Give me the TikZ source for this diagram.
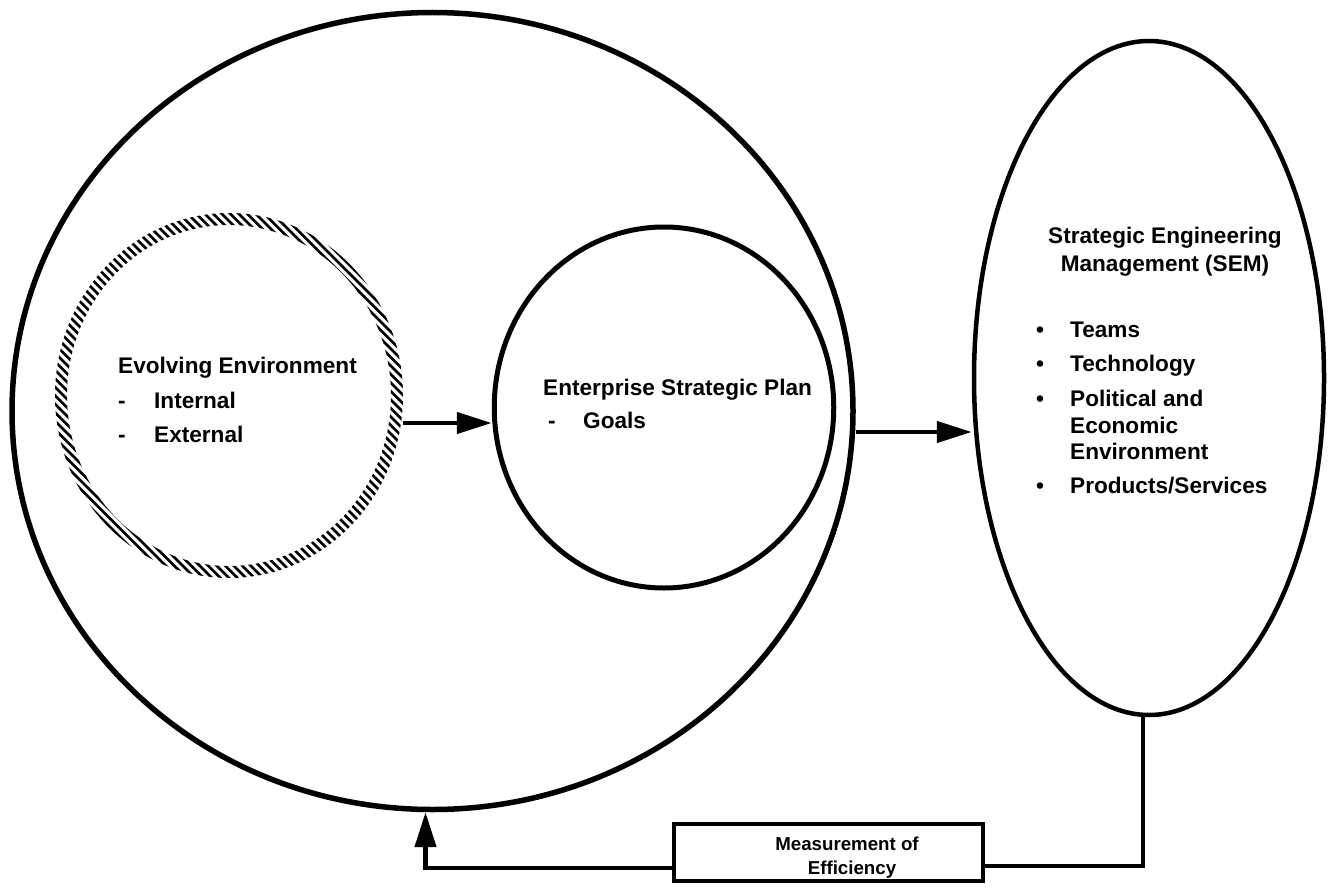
\documentclass[tikz,border=0pt]{standalone}
\usepackage{fontspec}
\setmainfont{Liberation Sans}
\usetikzlibrary{shapes.geometric,arrows.meta}
\tikzset{
  ring/.style={ellipse, draw, inner sep=0pt},
  ghost/.style={ellipse, inner sep=0pt},
  hatchline/.style={line width=2.8pt},
  arr/.style={line width=4.5pt, -{Triangle[length=35pt,width=21pt]}},
  fb/.style={line width=4.5pt},
  boxnode/.style={rectangle, draw, line width=4pt, inner sep=0pt},
  txt/.style={font=\bfseries\fontsize{22.6}{27}\selectfont, inner sep=0pt, anchor=base west},
  ctxt/.style={font=\bfseries\fontsize{22.6}{27}\selectfont, inner sep=0pt, anchor=base},
  stxt/.style={font=\bfseries\fontsize{18.7}{24}\selectfont, inner sep=0pt, anchor=base}
}
\begin{document}
\begin{tikzpicture}[x=1pt,y=-1pt]
\useasboundingbox[fill=white] (0,0) rectangle (1329,888);

% main shapes
\node[ring, line width=5.5pt, minimum width=841pt, minimum height=797pt] (big) at (432.5,411) {};
\node[ghost, minimum width=348pt, minimum height=365pt] (hatch) at (229,395.5) {};
\node[ring, line width=5pt, minimum width=339.5pt, minimum height=361pt] (ent) at (664,407.5) {};
\node[ring, line width=4.5pt, minimum width=350pt, minimum height=674pt] (sem) at (1149,378) {};
\node[boxnode, minimum width=309pt, minimum height=57pt] (meas) at (828.5,852.5) {};

% hatched ring
\begin{scope}[even odd rule]
  \clip (229,395.5) ellipse [x radius=174pt, y radius=182.5pt]
        (229,395.5) ellipse [x radius=162pt, y radius=170.5pt];
  \foreach \d in {-259,-250.5,...,262} {
    \draw[hatchline] (229+\d-260,395.5-260) -- (229+\d+260,395.5+260);
  }
\end{scope}

% texts
\node[txt] (evo1) at (118,373) {Evolving Environment};
\node[txt] (evo2) at (118,408) {\makebox[36pt][l]{-}Internal};
\node[txt] (evo3) at (118,442) {\makebox[36pt][l]{-}External};

\node[txt] (ent1) at (543,395) {Enterprise Strategic Plan};
\node[txt] (ent2) at (548,428) {\makebox[35pt][l]{-}Goals};

\node[ctxt] (sem1) at (1165,243) {Strategic Engineering};
\node[ctxt] (sem2) at (1165,271) {Management (SEM)};
\node[txt] (it1) at (1036,337) {\makebox[34pt][l]{•}Teams};
\node[txt] (it2) at (1036,371) {\makebox[34pt][l]{•}Technology};
\node[txt] (it3) at (1036,406) {\makebox[34pt][l]{•}Political and};
\node[txt] (it4) at (1070,433) {Economic};
\node[txt] (it5) at (1070,459) {Environment};
\node[txt] (it6) at (1036,493) {\makebox[34pt][l]{•}Products/Services};

\node[stxt] (m1) at (847,850) {Measurement of};
\node[stxt] (m2) at (852,874) {Efficiency};

% connectors
\draw[arr] (hatch.east |- 0,423) -- (ent.west |- 0,423);
\draw[arr] (big.east |- 0,432) -- (sem.west |- 0,432);
\draw[fb] (sem.269.5) |- (meas.east |- 0,866);
\draw[arr] (meas.west |- 0,868) -| (big.269);
\end{tikzpicture}
\end{document}
